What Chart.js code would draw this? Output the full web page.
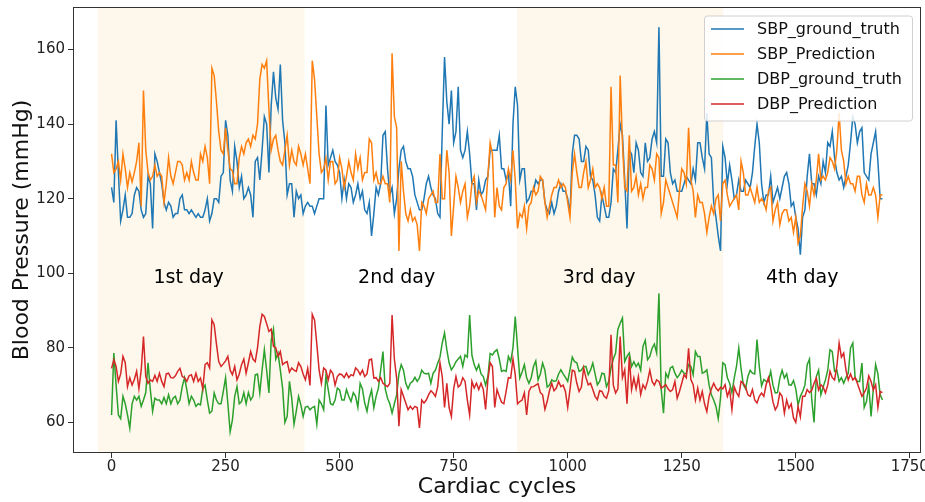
<!DOCTYPE html>
<html><head><meta charset="utf-8">
<script src="https://cdn.jsdelivr.net/npm/chart.js@4.4.1/dist/chart.umd.min.js"></script>
<style>html,body{margin:0;padding:0;background:#fff;}#wrap{width:925px;height:502px;position:relative;}</style>
</head><body><div id="wrap"><canvas id="c" width="925" height="502"></canvas></div>
<script>
// sampling grid of cardiac cycles (every 5 cycles, 0..1690)
const cycles = Array.from({length: 339}, (_, i) => i * 5);

const sbpTruth = [
// c0..c385
123,119,141,127,114,117,121,115,115,116, 121,123,122,117,115,116,126,124,112,132,
130,127,124,119,117,119,118,115,116,116, 120,121,117,117,116,117,116,115,116,115,
115,117,120,114,116,120,120,119,126,127, 141,137,125,122,134,130,123,126,120,121,
123,121,115,130,131,125,133,142,140,127, 145,154,147,144,156,141,135,121,
// c390..c845
124,124,115,122,120,121,116,118,119,118, 118,116,118,120,120,120,145,129,131,133,
130,129,127,120,125,120,124,123,119,121, 124,120,122,117,116,119,110,116,123,121,
124,137,138,128,121,123,116,120,128,133, 134,130,128,128,126,121,119,117,117,120,
124,126,123,121,120,116,115,138,158,146, 140,149,135,138,150,133,131,133,138,132,
124,124,117,125,121,122,125,126,133,133, 133,133,
// c850..c1315
137,128,128,125,127,118,140,150,145,125, 128,128,119,120,122,122,125,124,125,125,
119,117,116,119,116,118,122,124,122,122, 120,116,132,137,137,136,130,130,134,133,
126,125,121,115,114,121,118,115,115,119, 128,127,133,140,137,125,112,133,132,127,
135,133,127,126,135,130,131,136,138,135, 166,126,126,136,135,127,124,125,122,122,
122,124,126,125,124,128,125,135,135,131, 128,143,132,131,
// c1320..c1690
119,115,110,106,134,131,124,129,125,120, 121,125,122,122,125,124,123,127,134,140,
135,124,119,121,121,126,119,121,123,120, 123,126,127,124,118,119,115,112,105,115,
117,126,132,124,124,121,126,124,130,127, 135,134,138,131,127,125,126,123,126,129,
135,142,140,135,138,139,127,126,125,132, 135,138,130,120,120];

const sbpPred = [
132,127,128,130,125,132,128,123,127,124.5, 127,130,135,118,149,133,127,125,126,129,
126,127,126,119,124,131,126,124,127,130, 130,129,125,127,125,130,127,125,125,132,
130,134,131,124,155,153,146,138,133,132, 139,133,128,127.5,124,124,131,134,132,135,
136,134,137,136,140,152,156,155,157,144, 133,136,137,133,130,129,133,137,
129,133,130,129,134,132,129,132,128,124, 157,152,142,132,127,128,131,125,130,130,
124,125,131,128,123,126,130,127,125,132, 128,131,125,127,127,136,135,125,127,124,
124,126,124,124,119,159,142,139,106,130, 122,116,114,117,114,115,113,106,119,118,
116,120,121,122,119,119,132,120,120,133, 127,110,118,126,123,119,122,124,115,118,
124,126,119,122,121,119,117,126,135,132, 115,123,
118,117,123,124,128,125,133,125,112,116, 115,118,112,118,119,123,121,122,126,125,
119,115,118,121,123,123,125,123,124,123, 119,115,127,132,127,123,123,127,130,123,
125,128,123,124,123,120,123,118,118,150, 129,129,119,153,135,123,122,137,122,123,
126,121,124,120,123,123,129,128,125,132, 131,116,119,125,123,121,119,117,115,122,
128,127,124,139,125,122,115,121,119,119, 116,111,115,118,
116,120,121,114,124,125,121,118,119,120, 121,117,130,127,121,121,123,121,119,123,
119,120,119,117,122,123,114,117,119,113, 116,117,117,114,115,111,115,108,110,118,
124,122,118,124,121,125,132,125,126,125, 127,131,130,128,133,143,133,130,124,126,
124,124,122,126,126,121,119,124,121,121, 123,121,115,121,121];

const dbpTruth = [
62,78.6,70,62,61,67,65,62,58.5,65, 67,66,67,64.3,66,68,76,68.8,63,66.5,
66,66,65,66.7,65,67.4,65,66.5,67,65, 66,69.6,72,68.8,65,67,66,64.3,65,64.7,
69,70,66,62.5,63,67.9,66,65,65,68.3, 72,65,57.5,60.7,67,69.6,65,65.6,68,65,
68,66,67,72.8,73,67.9,74,79.5,74,67.9, 82,85,77,78.6,74,69.2,60,61.6,
71,66.5,59.5,63,67,64.7,61.6,64.1,64.3,63.4, 64,64.3,59.5,66,65,63.4,72.5,68.8,65,64.7,
66,69.2,68.7,66,66,68.8,67,65.6,68,67, 64,70.5,69,65.2,63,66.5,68.7,63.9,67,69.2,
74,79,69,66.5,65,62.5,65,67.4,73,75.5, 74,70.5,69,70.5,71,72.1,71,71.9,74,73.2,
73,73.2,70.5,73.2,74,75.9,77.5,81.3,84,79.5, 76,74.1,75,76.3,77,77.7,75,78.1,77.5,88.8,
78,75.5,74,75.5,73,72.3,70,72.3,78.5,78.1, 79,79.5,
77,73.7,74,73.7,77.7,76.3,80,88.4,80,71.9, 73.5,75.5,72,70.5,72,75,76.5,71.4,73,75.9,
74,69.5,70,71.4,71,71.2,73,74.1,73,72.1, 71,74.1,77.5,76.3,76,73.7,74,75,75,72.8,
74,75.9,73,70.1,71,73.2,73,69.6,71,74.6, 77,78.6,85,86.6,88,76.3,77.7,78.6,75,76.3,
75,75.9,74,80.4,82,76.8,77.7,79.9,81,78.6, 94.6,68.8,62.5,73.2,72,74.6,75,73.2,72,72.8,
74,73.2,73,75.5,75,72.8,79,77.7,77.7,73.2, 73.5,74.1,70,67.4,
66,64.3,61,66.5,76,75.5,72,70.5,68,71.9, 75,79.9,74.5,70.1,69,72.3,74,73.2,73,82.2,
75,69.8,71.5,71,71,73.7,70,67.9,68,71.9, 74,71.9,73,70.1,70,71.2,69,64.7,67,68.3,
70,75.5,77,66.1,60,72.3,74,67.4,69.5,71.4, 74,79.5,79,73.7,74,71,72,70.5,72,73.2,
80,81.3,72,71,71,75.9,64,65.6,70,61.6, 69,75.5,73,67.4,66];

const dbpPred = [
74.5,76.8,75,71,73,77.7,76,69.6,72,70, 71.5,73.7,69,74,83,72.3,70.5,71.4,71,72.6,
71,73.2,71,69.6,73,73.2,72,71.9,72.5,73.7, 74.5,72.3,72,71,72.5,72.8,71,73.2,71,71.9,
69,75.5,76,74.6,87.5,86.2,81,76.3,75,75.7, 76.5,77.7,74,72.8,75,71.4,73,75.5,77,73.2,
76,79,77,76.3,80,85.7,89,88.4,86.5,84.4, 85,80.4,80,77.7,79,75.5,76,76.3,
73.5,74.6,74,73.7,76,75,73,71.4,74.5,69.9, 89,87.5,81,74.1,70.5,74.6,74,71.4,74,73.2,
70,72.3,73,72.8,72,73.2,72,72.8,72.5,74.6, 74,72.8,74,72.3,73,76.8,77,71.9,72,71,
72,70.5,70,69.6,70.5,88.8,77,71.9,59,68.8, 67,65.2,63.4,64.3,63.5,64.3,64,58.5,66,65.2,
66,67.4,68.5,67.9,67,69.6,76,72.3,64,70.5, 64,61.6,69,72.3,69.5,70.1,72,71,66,62,
71,69.2,70.5,68.8,70.5,68.8,63.5,71.4,76,75, 64,68.8,
67,65.4,65,68.3,72,71.9,77,72.8,65,65.6, 66,67.9,62,68.3,69.5,69.6,70,70.4,68,67.4,
63.5,65.6,68.5,70.5,68.5,69.2,71,69.6,70,68.3, 64,68.8,74,73.7,70.5,68.3,69.5,74.6,72,70.1,
70.5,68.8,67,66.1,68.5,68.3,67,66.5,68.5,83.5, 70,67.9,69,83,72,74.1,65,77.7,68.8,71.9,
69,72.3,67.5,70.1,69,71,74,71,70,71.4, 71,69.2,69.6,70.1,69,68.3,68.8,71,66.5,68.3,
70.5,72.8,72,79.9,71.5,70.1,66,69.2,66,68.3, 65,62.9,67,69,
70.5,69.2,68.5,69.4,69,70.1,67,68.8,63.4,69.6, 68,67,71,70.5,69.5,67.4,67,68.8,66,65.2,
67,67.9,67,70.1,72,69.2,65.5,63.4,64.5,67.9, 67,62.5,66,63.8,65,61.2,60,64.3,61.5,67,
67,68.8,68,68.6,70.5,71.9,68.7,70.1,69.5,67.9, 70,73.7,72,71.4,75,81.3,77.5,78.6,74,71.4,
73,71.4,72,70.5,68.7,67,68,69.2,72.5,71, 68.7,70.1,64,68.3,68];

const seriesNames = ['SBP_ground_truth','SBP_Prediction','DBP_ground_truth','DBP_Prediction'];
const seriesColors = ['#1f77b4','#ff7f0e','#2ca02c','#d62728'];
const xTicks = [0,250,500,750,1000,1250,1500,1750];
const yTicks = [60,80,100,120,140,160];
const shadeStart = [-30, 889];
const shadeEnd = [423, 1341];
const dayNames = ['1st day','2nd day','3rd day','4th day'];
const dayCenters = [169, 625, 1069, 1514];
const dayLevel = 98.6;

const FONT = '"DejaVu Sans", "Liberation Sans", sans-serif';
const toPts = vals => cycles.map((c, i) => ({x: c, y: vals[i]}));
const allSeries = [sbpTruth, sbpPred, dbpTruth, dbpPred];
const drawOrder = [3, 2, 1, 0];

const bgPlugin = {
  id: 'bg',
  beforeDatasetsDraw(chart) {
    const {ctx, chartArea: a, scales: {x}} = chart;
    ctx.save();
    ctx.fillStyle = '#fdf8eb';
    for (let i = 0; i < shadeStart.length; i++) {
      const x0 = Math.max(a.left, x.getPixelForValue(shadeStart[i]));
      const x1 = Math.min(a.right, x.getPixelForValue(shadeEnd[i]));
      ctx.fillRect(x0, a.top, x1 - x0, a.bottom - a.top);
    }
    ctx.restore();
  },
  afterDatasetsDraw(chart) {
    const {ctx, scales: {x, y}} = chart;
    ctx.save();
    ctx.fillStyle = '#000';
    ctx.font = '19px ' + FONT;
    ctx.textAlign = 'center';
    ctx.textBaseline = 'middle';
    dayNames.forEach((t, i) => ctx.fillText(t, x.getPixelForValue(dayCenters[i]), y.getPixelForValue(dayLevel)));
    ctx.restore();
  },
  afterDraw(chart) {
    const {ctx, chartArea: a} = chart;
    ctx.save();
    ctx.strokeStyle = '#333';
    ctx.lineWidth = 1;
    ctx.strokeRect(Math.round(a.left) + 0.5, Math.round(a.top) + 0.5, Math.round(a.right - a.left) - 1, Math.round(a.bottom - a.top) - 1);
    // legend
    const lx = 704, ly = 15.5, lw = 208, lh = 105;
    ctx.fillStyle = 'rgba(255,255,255,0.85)';
    ctx.strokeStyle = '#d0d0d0';
    ctx.beginPath();
    ctx.roundRect(lx + 0.5, ly + 0.5, lw, lh, 3);
    ctx.fill();
    ctx.stroke();
    ctx.font = '16px ' + FONT;
    ctx.textAlign = 'left';
    ctx.textBaseline = 'middle';
    seriesNames.forEach((n, i) => {
      const yy = 29 + i * 25;
      ctx.strokeStyle = seriesColors[i];
      ctx.lineWidth = 1.6;
      ctx.beginPath();
      ctx.moveTo(711, yy); ctx.lineTo(744, yy);
      ctx.stroke();
      ctx.fillStyle = '#111';
      ctx.fillText(n, 757, yy + 1);
    });
    ctx.restore();
  }
};

new Chart(document.getElementById('c'), {
  type: 'line',
  data: {
    datasets: allSeries.map((v, i) => ({
      label: seriesNames[i],
      data: toPts(v),
      borderColor: seriesColors[i],
      backgroundColor: seriesColors[i],
      borderWidth: 1.5,
      pointRadius: 0,
      tension: 0,
      order: drawOrder[i]
    }))
  },
  options: {
    responsive: false,
    animation: false,
    events: [],
    layout: {padding: {top: 7, right: 4, left: 0, bottom: 0}},
    plugins: {legend: {display: false}, tooltip: {enabled: false}},
    scales: {
      x: {
        type: 'linear', min: -84.5, max: 1774.5,
        afterBuildTicks: s => { s.ticks = xTicks.map(v => ({value: v})); },
        afterFit: s => { s.height = 49; s.paddingLeft = 0; s.paddingRight = 0; },
        grid: {drawOnChartArea: false, drawTicks: true, tickLength: 5, tickColor: '#333'},
        border: {display: false},
        ticks: {padding: 0, color: '#222', font: {family: FONT, size: 15}, maxRotation: 0, autoSkip: false, callback: v => String(v)},
        title: {display: true, text: 'Cardiac cycles', color: '#111', font: {family: FONT, size: 22}, padding: {top: 0, bottom: 2}}
      },
      y: {
        type: 'linear', min: 51.8, max: 171.4,
        afterBuildTicks: s => { s.ticks = yTicks.map(v => ({value: v})); },
        afterFit: s => { s.width = 73; s.paddingTop = 0; s.paddingBottom = 0; },
        grid: {drawOnChartArea: false, drawTicks: true, tickLength: 5, tickColor: '#333'},
        border: {display: false},
        ticks: {padding: 3, color: '#222', font: {family: FONT, size: 15}, autoSkip: false, callback: v => String(v)},
        title: {display: true, text: 'Blood Pressure (mmHg)', color: '#111', font: {family: FONT, size: 22}, padding: {top: 9, bottom: 0}}
      }
    }
  },
  plugins: [bgPlugin]
});
</script></body></html>
